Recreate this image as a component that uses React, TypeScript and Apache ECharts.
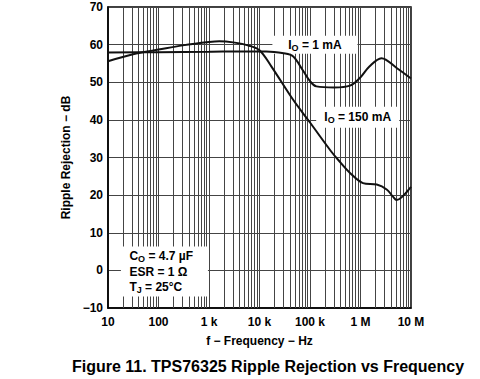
import React, { useEffect, useRef } from "react";
import * as echarts from "echarts";

const freqIo1 = [10, 100, 1000, 5000, 13600, 30000, 46000, 72000, 100000, 134000, 300000, 620000, 980000, 1500000, 2600000, 5200000, 10000000];
const rrIo1 = [57.9, 58.0, 58.1, 58.2, 58.2, 57.7, 56.9, 53.2, 50.3, 48.9, 48.6, 49.1, 51.2, 54.2, 56.4, 53.8, 51.0];

const freqIo150 = [10, 30, 56, 100, 300, 1000, 1600, 3000, 6300, 10000, 17000, 46000, 100000, 263000, 360000, 620000, 1120000, 2100000, 3300000, 4400000, 5200000, 6500000, 10000000];
const rrIo150 = [55.6, 57.4, 58.1, 58.7, 59.8, 60.7, 60.9, 60.6, 59.7, 58.5, 54.3, 45.4, 39.3, 31.6, 29.4, 25.9, 23.2, 22.8, 21.5, 19.6, 18.7, 19.4, 22.2];

const xTickLabels: Record<string, string> = {
  "10": "10",
  "100": "100",
  "1000": "1 k",
  "10000": "10 k",
  "100000": "100 k",
  "1000000": "1 M",
  "10000000": "10 M",
};

const decades = [10, 100, 1000, 10000, 100000, 1000000];
const minorMultipliers = [2, 3, 4, 5, 6, 7, 8, 9];

const FONT = "'Liberation Sans', Arial, sans-serif";

export default function App() {
  const ref = useRef<HTMLDivElement>(null);
  useEffect(() => {
    if (!ref.current) return;
    const chart = echarts.init(ref.current, undefined, { renderer: "svg" });
    const minorLines: any[] = [];
    decades.forEach((d) => minorMultipliers.forEach((m) => minorLines.push({ xAxis: d * m })));

    const rich = {
      b: { fontFamily: FONT, fontSize: 12, fontWeight: "bold", color: "#000" },
      s: { fontFamily: FONT, fontSize: 9, fontWeight: "bold", color: "#000", padding: [6, 0, 0, 0] },
    };

    chart.setOption({
      animation: false,
      textStyle: { fontFamily: FONT },
      title: {
        text: "Figure 11. TPS76325 Ripple Rejection vs Frequency",
        left: 263,
        top: 353,
        textAlign: "center",
        textStyle: { fontFamily: FONT, fontSize: 16, fontWeight: "bold", color: "#000" },
      },
      grid: { left: 108, top: 7, right: 69, bottom: 71, show: true, borderColor: "#000", borderWidth: 1.5, backgroundColor: "transparent" },
      xAxis: {
        type: "log",
        logBase: 10,
        min: 10,
        max: 10000000,
        name: "f \u2212 Frequency \u2212 Hz",
        nameLocation: "middle",
        nameGap: 27,
        nameTextStyle: { fontFamily: FONT, fontSize: 12, fontWeight: "bold", color: "#000" },
        axisLine: { show: true, onZero: false, lineStyle: { color: "#000", width: 1.5 } },
        axisTick: { show: false },
        axisLabel: {
          fontFamily: FONT,
          fontSize: 12,
          fontWeight: "bold",
          color: "#000",
          margin: 8,
          formatter: (v: number) => xTickLabels[String(Math.round(v))] ?? "",
        },
        splitLine: { show: true, lineStyle: { color: "#444", width: 1 } },
      },
      yAxis: {
        type: "value",
        min: -10,
        max: 70,
        interval: 10,
        name: "Ripple Rejection \u2212 dB",
        nameLocation: "middle",
        nameGap: 24,
        nameTextStyle: { fontFamily: FONT, fontSize: 12, fontWeight: "bold", color: "#000" },
        axisLine: { show: true, onZero: false, lineStyle: { color: "#000", width: 1.5 } },
        axisTick: { show: false },
        axisLabel: {
          fontFamily: FONT,
          fontSize: 12,
          fontWeight: "bold",
          color: "#000",
          margin: 5,
          formatter: (v: number) => (v < 0 ? "\u2212" + Math.abs(v) : String(v)),
        },
        splitLine: { show: true, lineStyle: { color: "#444", width: 1 } },
      },
      series: [
        {
          type: "line",
          data: [],
          silent: true,
          markLine: {
            silent: true,
            z: 1,
            symbol: ["none", "none"],
            label: { show: false },
            lineStyle: { color: "#444", width: 1, type: "solid" },
            data: minorLines,
          },
          markPoint: {
            silent: true,
            z: 2,
            data: [
              {
                coord: [125000, 60],
                symbol: "rect",
                symbolSize: [85, 18],
                itemStyle: { color: "#fff" },
                label: { show: true, position: "inside", formatter: "{b|I}{s|O}{b| = 1 mA}", rich },
              },
              {
                coord: [880000, 40.7],
                symbol: "rect",
                symbolSize: [83, 21],
                itemStyle: { color: "#fff" },
                label: { show: true, position: "inside", formatter: "{b|I}{s|O}{b| = 150 mA}", rich },
              },
              {
                coord: [131, -0.3],
                symbol: "rect",
                symbolSize: [87, 50],
                itemStyle: { color: "#fff" },
                label: {
                  show: true,
                  position: "inside",
                  align: "left",
                  offset: [-35, 0],
                  lineHeight: 15.5,
                  formatter: "{b|C}{s|O}{b| = 4.7 \u00b5F}\n{b|ESR = 1 \u03a9}\n{b|T}{s|J}{b| = 25\u00b0C}",
                  rich: {
                    b: { ...rich.b, lineHeight: 15.5 },
                    s: { ...rich.s, lineHeight: 15.5 },
                  },
                },
              },
            ],
          },
        },
        {
          name: "IO = 1 mA",
          type: "line",
          z: 3,
          data: freqIo1.map((f, i) => [f, rrIo1[i]]),
          smooth: 0.35,
          showSymbol: false,
          lineStyle: { color: "#111", width: 2 },
        },
        {
          name: "IO = 150 mA",
          type: "line",
          z: 3,
          data: freqIo150.map((f, i) => [f, rrIo150[i]]),
          smooth: 0.35,
          showSymbol: false,
          lineStyle: { color: "#111", width: 2 },
        },
      ],
    });
    return () => chart.dispose();
  }, []);
  return <div ref={ref} style={{ position: "fixed", left: 0, top: 0, width: 480, height: 379, background: "#fff" }} />;
}
